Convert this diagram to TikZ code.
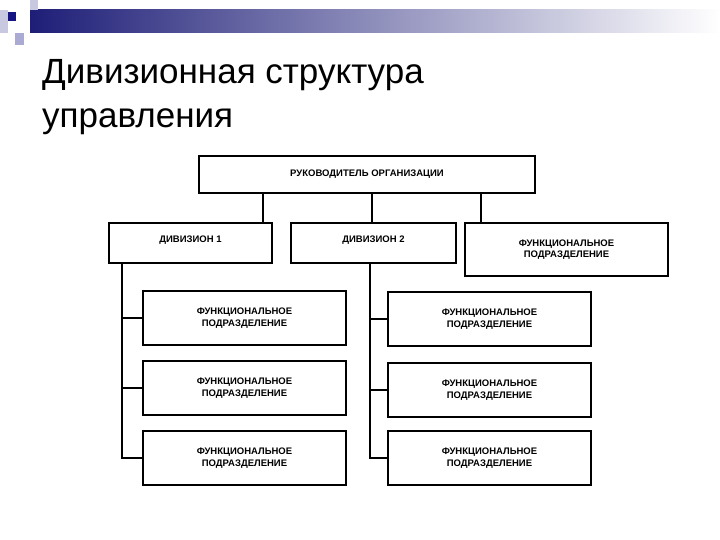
\documentclass[tikz,border=0pt]{standalone}
\usepackage{fontspec}
\setmainfont{Liberation Sans}
\definecolor{navy}{RGB}{30,30,120}
\definecolor{lsq}{RGB}{200,200,225}
\definecolor{msq}{RGB}{170,170,210}
\definecolor{dsq}{RGB}{20,20,130}
\begin{document}
\begin{tikzpicture}[x=1pt,y=-1pt,
  bx/.style={draw,line width=2pt,anchor=north west,inner sep=0pt,align=center,font=\bfseries\fontsize{9.5}{11.5}\selectfont},
  ln/.style={line width=1.2pt}]
\useasboundingbox (0,0) rectangle (720,540);
\fill[white] (0,0) rectangle (720,540);
\shade[left color=navy, right color=white] (30,10) rectangle (720,33);
\fill[lsq] (30,0) rectangle (38,10);
\fill[lsq] (0,10) rectangle (8,33);
\fill[msq] (15,33) rectangle (24,45);
\fill[dsq] (8,12) rectangle (16,21);
\node[anchor=base west,font=\fontsize{35}{40}\selectfont,inner sep=0pt] (title) at (42,84) {Дивизионная структура};
\node[anchor=base west,font=\fontsize{35}{40}\selectfont,inner sep=0pt] (title2) at (42,128) {управления};
\node[bx,minimum width=336pt,minimum height=37pt] (top) at (198,155) {РУКОВОДИТЕЛЬ ОРГАНИЗАЦИИ};
\node[bx,minimum width=163pt,minimum height=40pt] (d1) at (108,222) {ДИВИЗИОН 1\\[-3pt]};
\node[bx,minimum width=165pt,minimum height=40pt] (d2) at (290,222) {ДИВИЗИОН 2\\[-3pt]};
\node[bx,minimum width=203pt,minimum height=53pt] (f0) at (464,222) {ФУНКЦИОНАЛЬНОЕ\\ПОДРАЗДЕЛЕНИЕ};
\node[bx,minimum width=203pt,minimum height=54pt] (a1) at (142,290) {ФУНКЦИОНАЛЬНОЕ\\ПОДРАЗДЕЛЕНИЕ};
\node[bx,minimum width=203pt,minimum height=54pt] (a2) at (142,360) {ФУНКЦИОНАЛЬНОЕ\\ПОДРАЗДЕЛЕНИЕ};
\node[bx,minimum width=203pt,minimum height=54pt] (a3) at (142,430) {ФУНКЦИОНАЛЬНОЕ\\ПОДРАЗДЕЛЕНИЕ};
\node[bx,minimum width=203pt,minimum height=54pt] (b1) at (387,291) {ФУНКЦИОНАЛЬНОЕ\\ПОДРАЗДЕЛЕНИЕ};
\node[bx,minimum width=203pt,minimum height=54pt] (b2) at (387,362) {ФУНКЦИОНАЛЬНОЕ\\ПОДРАЗДЕЛЕНИЕ};
\node[bx,minimum width=203pt,minimum height=54pt] (b3) at (387,430) {ФУНКЦИОНАЛЬНОЕ\\ПОДРАЗДЕЛЕНИЕ};
\draw[ln] (top.south -| 263,0) -- (d1.north -| 263,0);
\draw[ln] (top.south -| 372,0) -- (d2.north -| 372,0);
\draw[ln] (top.south -| 481,0) -- (f0.north -| 481,0);
\draw[ln] (d1.south -| 122,0) -- (a3.west -| 122,0) -- (a3.west);
\draw[ln] (a1.west -| 122,0) -- (a1.west);
\draw[ln] (a2.west -| 122,0) -- (a2.west);
\draw[ln] (d2.south -| 370,0) -- (b3.west -| 370,0) -- (b3.west);
\draw[ln] (b1.west -| 370,0) -- (b1.west);
\draw[ln] (b2.west -| 370,0) -- (b2.west);
\end{tikzpicture}
\end{document}
